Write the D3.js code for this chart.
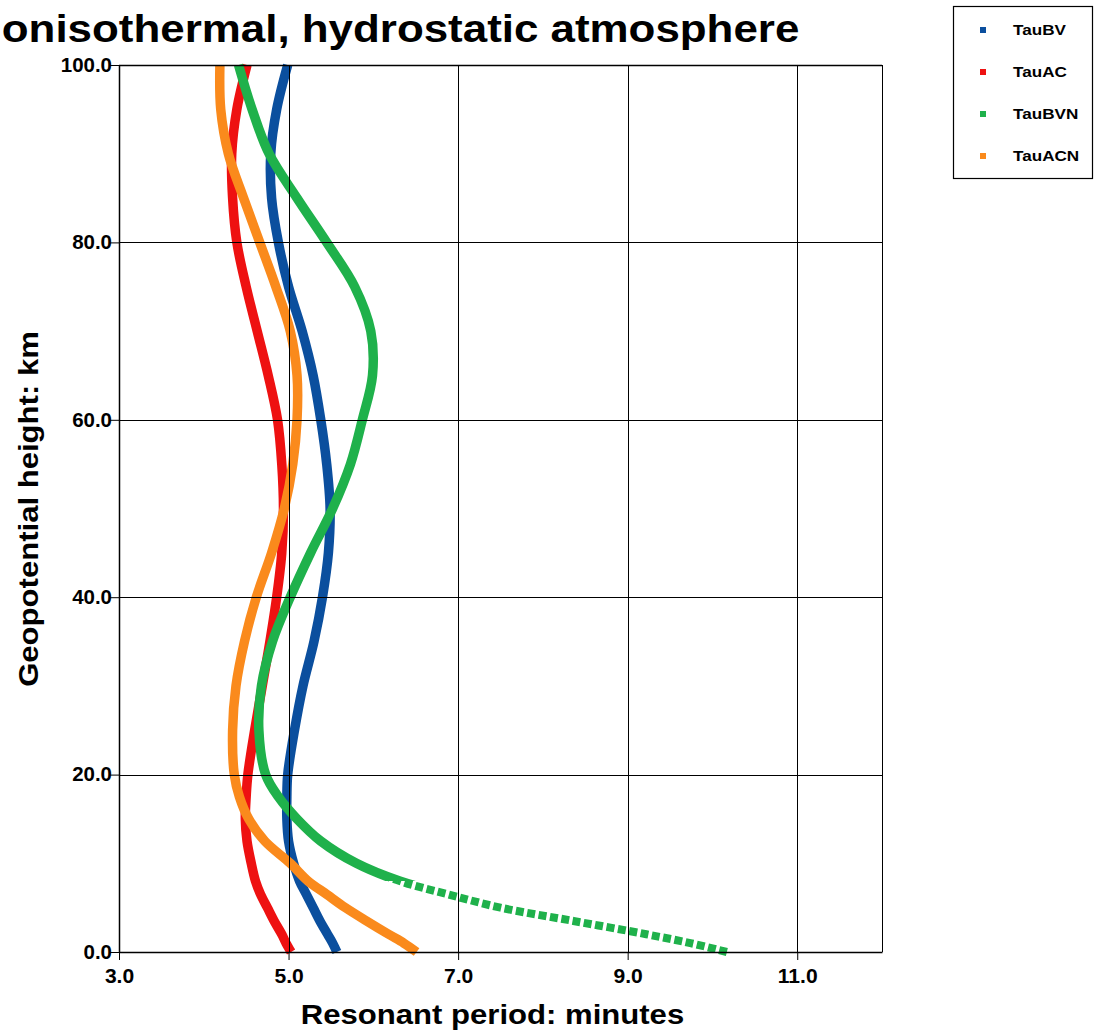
<!DOCTYPE html>
<html lang="en">

<head>
  <meta charset="UTF-8">
  <title>Resonant periods</title>
  <style>
    body {
      margin: 0;
      background: #fff;
    }

    svg {
      display: block;
      font-family: "Liberation Sans", Arial, sans-serif;
    }
  </style>
</head>

<body>
  <svg id="svg" width="1096" height="1034"></svg>

  <script src="https://d3js.org/d3.v7.min.js"></script>
  <script>
    // geopotential height, km
    var heights = [0, 1, 2, 3.5, 5, 6.5, 8, 10, 12.5, 15, 17.5, 20, 25, 30, 35, 40, 45, 50, 55, 60, 65, 70, 75, 80, 85, 90, 95, 100];

    // resonant periods, minutes
    var tauBV = [5.57, 5.52, 5.46, 5.37, 5.29, 5.21, 5.13, 5.06, 5.00, 4.98, 4.98, 4.99, 5.07, 5.17, 5.30, 5.40, 5.47, 5.49, 5.45, 5.38, 5.29, 5.16, 5.00, 4.88, 4.80, 4.79, 4.86, 4.99];
    var tauAC = [5.03, 4.97, 4.92, 4.83, 4.75, 4.67, 4.61, 4.56, 4.51, 4.49, 4.50, 4.52, 4.60, 4.69, 4.78, 4.86, 4.92, 4.94, 4.92, 4.87, 4.76, 4.63, 4.50, 4.39, 4.34, 4.33, 4.39, 4.51];
    var tauBVN = [10.17, 9.74, 9.22, 8.36, 7.50, 6.88, 6.31, 5.80, 5.38, 5.10, 4.88, 4.73, 4.65, 4.68, 4.81, 5.02, 5.26, 5.52, 5.73, 5.87, 5.99, 5.97, 5.78, 5.45, 5.10, 4.77, 4.57, 4.41];
    var tauACN = [6.51, 6.36, 6.18, 5.92, 5.67, 5.45, 5.23, 5.02, 4.72, 4.53, 4.42, 4.36, 4.34, 4.38, 4.48, 4.62, 4.80, 4.95, 5.05, 5.10, 5.10, 5.02, 4.85, 4.66, 4.47, 4.29, 4.20, 4.19];

    var seriesNames = ["TauBV", "TauAC", "TauBVN", "TauACN"];
    var seriesColors = ["#0b4f9e", "#ee1111", "#1fb14b", "#fa8a1c"];
    var seriesValues = [tauBV, tauAC, tauBVN, tauACN];

    var xMajor = [3, 5, 7, 9, 11];
    var yMajor = [0, 20, 40, 60, 80, 100];

    var svg = d3.select("svg"),
      plotLeft = 119, plotRight = 882, plotTop = 65, plotBottom = 952;

    var x = d3.scaleLinear().domain([3, 12]).range([plotLeft, plotRight]);
    var y = d3.scaleLinear().domain([0, 100]).range([plotBottom, plotTop]);

    // the original's lettering is a little wider than Liberation Sans
    function stretch(sel, k) {
      sel.each(function () {
        var w = this.getComputedTextLength();
        d3.select(this).attr("textLength", w * k).attr("lengthAdjust", "spacingAndGlyphs");
      });
    }

    var series = seriesNames.map(function (name, i) {
      return {
        name: name,
        color: seriesColors[i],
        points: heights.map(function (h, j) {
          return { h: h, v: seriesValues[i][j] };
        })
      };
    });

    var line = d3.line()
      .x(function (d) { return x(d.v); })
      .y(function (d) { return y(d.h); })
      .curve(d3.curveCatmullRom.alpha(0.5));

    // clip regions: markers in the green tail separate below ~8 km
    var defs = svg.append("defs");
    defs.append("clipPath").attr("id", "clipUpper")
      .append("rect").attr("x", 0).attr("y", 0).attr("width", 1096).attr("height", y(8));
    defs.append("clipPath").attr("id", "clipLower")
      .append("rect").attr("x", 0).attr("y", y(8)).attr("width", 1096).attr("height", 1034 - y(8));

    var curves = svg.append("g");
    series.forEach(function (s) {
      if (s.name === "TauBVN") {
        curves.append("path")
          .attr("d", line(s.points))
          .attr("fill", "none")
          .attr("stroke", s.color)
          .attr("stroke-width", 9.5)
          .attr("clip-path", "url(#clipUpper)");
        curves.append("path")
          .attr("d", line(s.points))
          .attr("fill", "none")
          .attr("stroke", s.color)
          .attr("stroke-width", 8)
          .attr("stroke-dasharray", "8,3.5")
          .attr("clip-path", "url(#clipLower)");
      } else {
        curves.append("path")
          .attr("d", line(s.points))
          .attr("fill", "none")
          .attr("stroke", s.color)
          .attr("stroke-width", 9.5);
      }
    });

    // grid
    var grid = svg.append("g").attr("stroke", "#000").attr("stroke-width", 1);
    grid.selectAll(".vx")
      .data(xMajor.slice(1))
      .enter().append("line")
      .attr("x1", function (d) { return Math.round(x(d)) + 0.5; })
      .attr("x2", function (d) { return Math.round(x(d)) + 0.5; })
      .attr("y1", plotTop).attr("y2", plotBottom);
    grid.selectAll(".hy")
      .data(yMajor.slice(1))
      .enter().append("line")
      .attr("y1", function (d) { return Math.round(y(d)) + 0.5; })
      .attr("y2", function (d) { return Math.round(y(d)) + 0.5; })
      .attr("x1", plotLeft).attr("x2", plotRight);
    grid.append("line")
      .attr("x1", plotRight + 0.5).attr("x2", plotRight + 0.5)
      .attr("y1", plotTop).attr("y2", plotBottom);

    // axes
    var fmt = d3.format(".1f");

    var xAxis = svg.append("g").attr("transform", "translate(0," + plotBottom + ")");
    xAxis.call(d3.axisBottom(x).tickValues(d3.range(3, 12.01, 0.5)).tickSize(6).tickFormat("").tickSizeOuter(0));
    xAxis.call(d3.axisBottom(x).tickValues(xMajor).tickSize(8).tickFormat(fmt).tickSizeOuter(0));

    var yAxis = svg.append("g").attr("transform", "translate(" + plotLeft + ",0)");
    yAxis.call(d3.axisLeft(y).tickValues(d3.range(0, 100.01, 5)).tickSize(6).tickFormat("").tickSizeOuter(0));
    yAxis.call(d3.axisLeft(y).tickValues(yMajor).tickSize(10).tickFormat(fmt).tickSizeOuter(0));

    svg.selectAll(".domain").attr("stroke", "#000").attr("stroke-width", 1.5);
    svg.selectAll(".tick line").attr("stroke", "#000");
    xAxis.selectAll("text")
      .attr("font-size", 19.5).attr("font-weight", "bold").attr("fill", "#000")
      .attr("font-family", "Liberation Sans, Arial, sans-serif")
      .attr("dy", "1.05em")
      .call(stretch, 1.08);
    yAxis.selectAll("text")
      .attr("font-size", 19.5).attr("font-weight", "bold").attr("fill", "#000")
      .attr("font-family", "Liberation Sans, Arial, sans-serif")
      .attr("x", -7)
      .call(stretch, 1.05);

    svg.append("line")
      .attr("x1", plotLeft).attr("x2", plotRight)
      .attr("y1", plotTop + 0.5).attr("y2", plotTop + 0.5)
      .attr("stroke", "#000").attr("stroke-width", 1.5);

    // titles
    svg.append("text")
      .attr("x", -25).attr("y", 42)
      .attr("font-size", 38).attr("font-weight", "bold")
      .text("nonisothermal, hydrostatic atmosphere")
      .call(stretch, 1.155);

    svg.append("text")
      .attr("x", (plotLeft + plotRight) / 2 - 8).attr("y", 1024)
      .attr("text-anchor", "middle")
      .attr("font-size", 28).attr("font-weight", "bold")
      .text("Resonant period: minutes")
      .call(stretch, 1.11);

    svg.append("text")
      .attr("transform", "translate(38," + 509 + ")rotate(-90)")
      .attr("text-anchor", "middle")
      .attr("font-size", 28).attr("font-weight", "bold")
      .text("Geopotential height: km")
      .call(stretch, 1.11);

    // legend
    var legend = svg.append("g").attr("transform", "translate(953,6)");
    legend.append("rect")
      .attr("x", 0.5).attr("y", 0.5)
      .attr("width", 139).attr("height", 172)
      .attr("fill", "#fff").attr("stroke", "#000").attr("stroke-width", 1.2);

    var item = legend.selectAll(".item")
      .data(series)
      .enter().append("g")
      .attr("transform", function (d, i) { return "translate(0," + (24 + i * 42) + ")"; });
    item.append("rect")
      .attr("x", 27).attr("y", -3)
      .attr("width", 6).attr("height", 6)
      .attr("fill", function (d) { return d.color; });
    item.append("text")
      .attr("x", 60).attr("dy", "0.35em")
      .attr("font-size", 15).attr("font-weight", "bold")
      .text(function (d) { return d.name; })
      .call(stretch, 1.14);
  </script>
</body>

</html>
